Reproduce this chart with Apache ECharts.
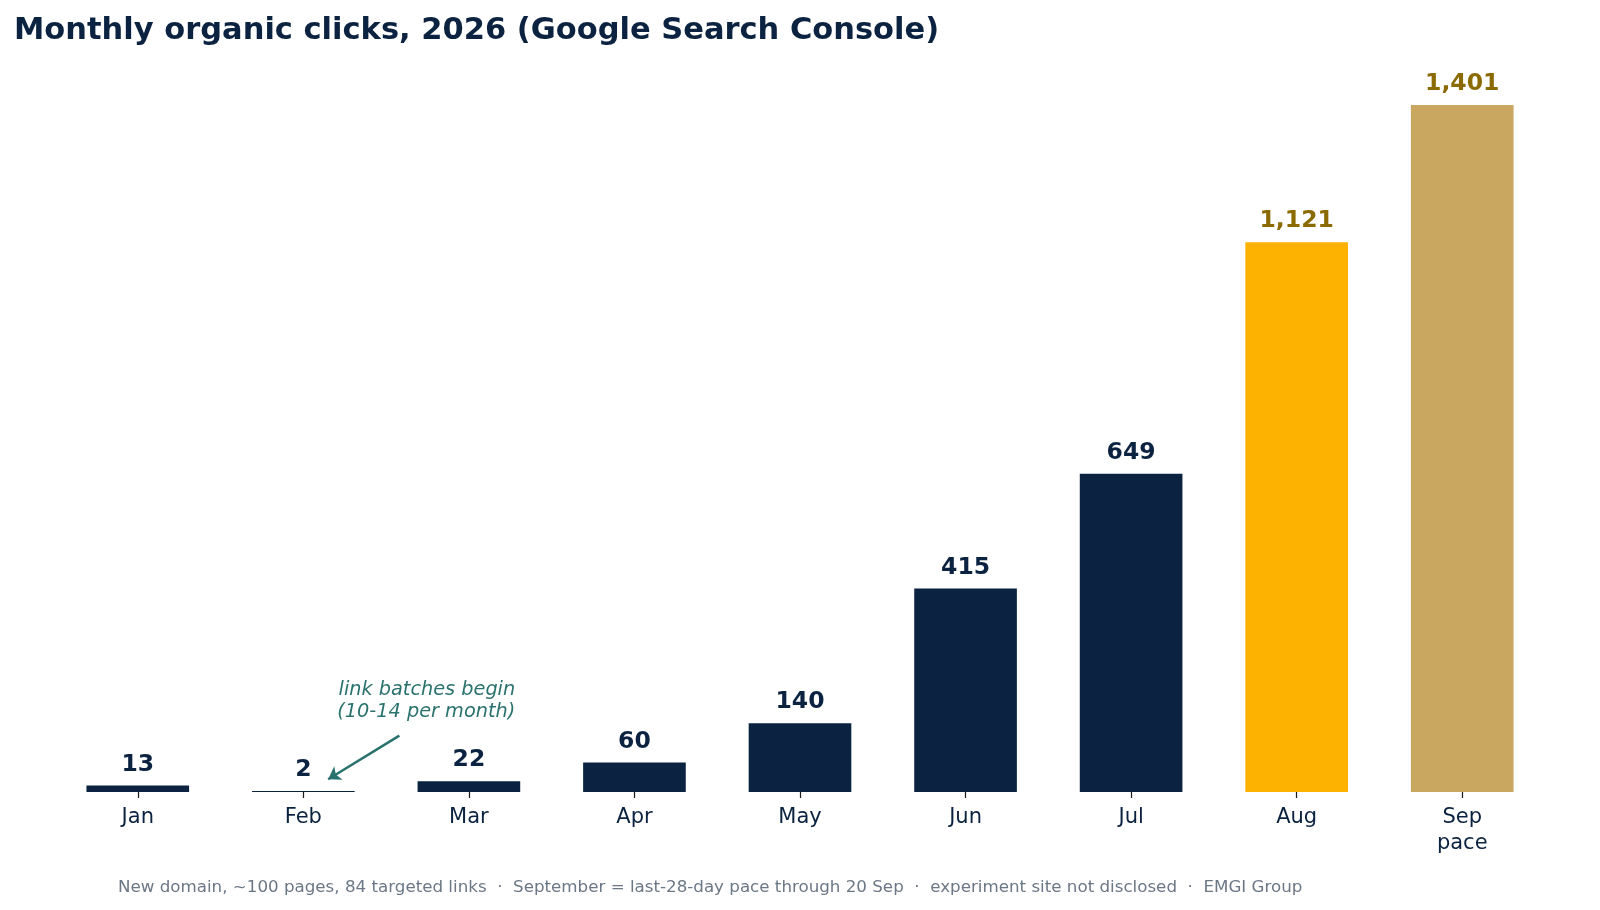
<!DOCTYPE html>
<html>
<head>
<meta charset="utf-8">
<script src="https://cdn.jsdelivr.net/npm/echarts@6/dist/echarts.min.js"></script>
<style>
html,body{margin:0;padding:0;background:#fff;}
#chart{width:1600px;height:910px;}
</style>
</head>
<body>
<div id="chart"></div>
<script>
// ---- data ----
const months = ['Jan','Feb','Mar','Apr','May','Jun','Jul','Aug','Sep\npace'];
const clicks = [13, 2, 22, 60, 140, 415, 649, 1121, 1401];
const titleText = 'Monthly organic clicks, 2026 (Google Search Console)';
const footerText = 'New domain, ~100 pages, 84 targeted links  \u00b7  September = last-28-day pace through 20 Sep  \u00b7  experiment site not disclosed  \u00b7  EMGI Group';
const annotationText = 'link batches begin\n(10-14 per month)';
const annotationAt = [2.28, 186];      // [month position, clicks]
const arrowFrom = [1.58, 115];
const arrowTo = [1.15, 26];

// ---- styles ----
const NAVY = '#0b2340';
const AUG = '#fdb100';
const SEP = '#c9a760';
const GOLD_TXT = '#8b6b00';
const TEAL = '#2a726d';
const FONT = 'DejaVu Sans';
const barColor = i => i === 7 ? AUG : (i === 8 ? SEP : NAVY);
const labelColor = i => i >= 7 ? GOLD_TXT : NAVY;

const chart = echarts.init(document.getElementById('chart'));
chart.setOption({
  animation: false,
  backgroundColor: '#fff',
  textStyle: { fontFamily: FONT },
  title: [
    { text: titleText, left: 9, top: 11,
      textStyle: { fontFamily: FONT, fontSize: 30.5, fontWeight: 'bold', color: NAVY } },
    { text: footerText, left: 113, top: 874,
      textStyle: { fontFamily: FONT, fontSize: 16.7, fontWeight: 'normal', color: '#6b7785' } }
  ],
  grid: { left: 55, right: 55, top: 56.4, bottom: 118, containLabel: false },
  xAxis: [
    { type: 'category', data: months,
      axisLine: { show: false },
      axisTick: { show: true, alignWithLabel: true, length: 6, lineStyle: { color: '#1a1a1a', width: 1.2 } },
      axisLabel: { fontFamily: FONT, fontSize: 21, color: NAVY, margin: 13, lineHeight: 26 },
      splitLine: { show: false } },
    { type: 'value', min: -0.5, max: 8.5, show: false, gridIndex: 0 }
  ],
  yAxis: { type: 'value', min: 0, max: 1500, show: false, splitLine: { show: false } },
  series: [
    { type: 'bar', xAxisIndex: 0, barWidth: '62%',
      data: clicks.map((v, i) => ({ value: v, itemStyle: { color: barColor(i) },
        label: { color: labelColor(i) } })),
      label: { show: true, position: 'top', distance: 9,
        fontFamily: FONT, fontSize: 23.5, fontWeight: 'bold',
        formatter: p => p.value.toLocaleString('en-US') } },
    { type: 'scatter', xAxisIndex: 1, yAxisIndex: 0, silent: true,
      symbolSize: 0.1, itemStyle: { color: TEAL, opacity: 1 },
      data: [annotationAt],
      label: { show: true, position: 'left', distance: 0, formatter: annotationText,
        fontFamily: FONT, fontStyle: 'italic', fontSize: 19.3, lineHeight: 22,
        color: TEAL, opacity: 1, align: 'right' },
      markLine: { silent: true, symbol: ['none', 'arrow'], symbolSize: 12,
        label: { show: false },
        lineStyle: { color: TEAL, width: 2.5, type: 'solid', opacity: 1 },
        data: [[{ coord: arrowFrom }, { coord: arrowTo }]] } }
  ]
});
</script>
</body>
</html>
